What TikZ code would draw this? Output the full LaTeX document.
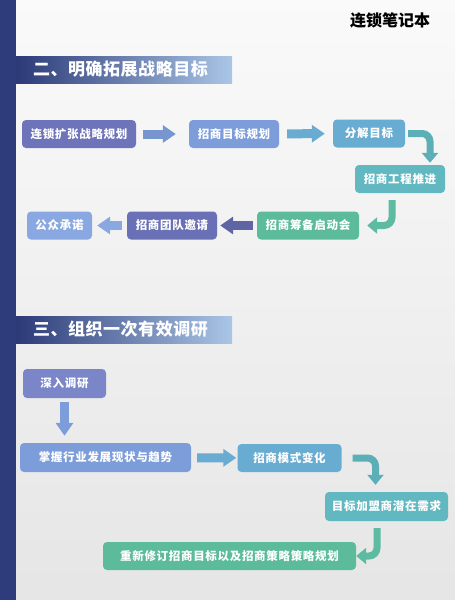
\documentclass[tikz,border=0pt]{standalone}
\usepackage{fontspec}
\setmainfont{Noto Sans CJK SC}
\usepackage{xcolor}
\usepackage{tikz}
\usetikzlibrary{arrows.meta, positioning}

\definecolor{barnavy}{HTML}{2F3C7C}
\definecolor{hdark}{HTML}{2C3A78}
\definecolor{hmid}{HTML}{3F5090}
\definecolor{hlight}{HTML}{AAC6E6}
\definecolor{cpurple}{HTML}{6D74B9}
\definecolor{cblue}{HTML}{7D9DDA}
\definecolor{csky}{HTML}{68ADD1}
\definecolor{cteal}{HTML}{61B8C1}
\definecolor{cgreen}{HTML}{5CBB9B}
\definecolor{cviolet}{HTML}{6A70B6}
\definecolor{clight}{HTML}{89A7E0}
\definecolor{csurvey}{HTML}{7B86C9}

\begin{document}
\begin{tikzpicture}[
  x=1pt, y=-1pt,
  stepbox/.style={rectangle, rounded corners=4pt, minimum height=28pt, inner sep=0pt,
               text=white, text centered,
               font=\fontsize{11.5}{13}\selectfont\bfseries\addfontfeature{LetterSpace=6}},
  banner/.style={rectangle, anchor=west, minimum height=27pt, inner xsep=17pt,
               text width=182pt, align=left, text=white,
               left color=hdark, middle color=hmid, right color=hlight,
               font=\fontsize{17}{19}\selectfont\bfseries\addfontfeature{LetterSpace=3}},
  blockarrow/.style={line width=9pt, -{Triangle[width=17pt, length=13pt]}},
  turnarrow/.style={line width=7pt, rounded corners=8pt, -{Triangle[width=16pt, length=10pt]}}
]
  \useasboundingbox (0,0) rectangle (455,600);
  \shade[top color=white!98!black, bottom color=black!10] (16,0) rectangle (455,600);
  \fill[barnavy] (0,0) rectangle (16,600);

  \node[font=\fontsize{16}{18}\selectfont\bfseries] (title) at (390,20) {连锁笔记本};

  % part two
  \node[banner] (sec2) at (16,69.5) {二、明确拓展战略目标};

  \node[stepbox, fill=cpurple, minimum width=114pt] (plan)    at (79,134)    {连锁扩张战略规划};
  \node[stepbox, fill=cblue,   minimum width=90pt]  (goal)    at (234,134)   {招商目标规划};
  \node[stepbox, fill=csky,    minimum width=72pt]  (split)   at (369,133.5) {分解目标};
  \node[stepbox, fill=cteal,   minimum width=90pt]  (push)    at (400,179)   {招商工程推进};
  \node[stepbox, fill=cgreen,  minimum width=102pt] (launch)  at (308,225.5) {招商筹备启动会};
  \node[stepbox, fill=cviolet, minimum width=90pt]  (team)    at (172,225.5) {招商团队邀请};
  \node[stepbox, fill=clight,  minimum width=65pt]  (promise) at (59.5,225.5) {公众承诺};

  \draw[blockarrow, color=cblue!95!black, shorten <=7pt, shorten >=13pt] (plan) -- (goal);
  \draw[blockarrow, color=csky!90!cblue, shorten <=8pt, shorten >=8pt] (goal) -- (split);
  \draw[turnarrow, color=cteal!95!black, shorten <=3pt, shorten >=2pt]
    (split.east) -| ([xshift=30pt]push.north);
  \draw[turnarrow, color=cgreen!85!cteal, shorten <=7pt, shorten >=8pt]
    ([xshift=-8pt]push.south) |- (launch.east);
  \draw[blockarrow, color=cviolet!90!black, shorten <=4pt, shorten >=3pt] (launch) -- (team);
  \draw[blockarrow, color=clight, shorten <=5pt, shorten >=5pt] (team) -- (promise);

  % part three
  \node[banner] (sec3) at (16,329.5) {三、组织一次有效调研};

  \node[stepbox, fill=csurvey, minimum width=83pt, minimum height=29pt]  (survey) at (64.5,383.5) {深入调研};
  \node[stepbox, fill=cblue,   minimum width=171pt, minimum height=29pt] (trend)  at (105.5,457.5) {掌握行业发展现状与趋势};
  \node[stepbox, fill=csky,    minimum width=104pt] (mode)   at (289.5,458)   {招商模式变化};
  \node[stepbox, fill=cteal,   minimum width=123pt, minimum height=29pt] (demand) at (386.5,506.5) {目标加盟商潜在需求};
  \node[stepbox, fill=cgreen,  minimum width=253pt] (revise) at (229.5,556)   {重新修订招商目标以及招商策略策略规划};

  \draw[blockarrow, color=cblue, shorten <=4pt, shorten >=7pt] (survey.south) -- (survey.south |- trend.north);
  \draw[blockarrow, color=csky!90!cblue, shorten <=6pt, shorten >=1pt] (trend) -- (mode);
  \draw[turnarrow, color=cteal!95!black, shorten <=11pt, shorten >=7pt]
    (mode.east) -| ([xshift=-11pt]demand.north);
  \draw[turnarrow, color=cgreen!85!cteal, shorten <=7pt]
    ([xshift=-9.5pt]demand.south) |- (revise.east);
\end{tikzpicture}
\end{document}
